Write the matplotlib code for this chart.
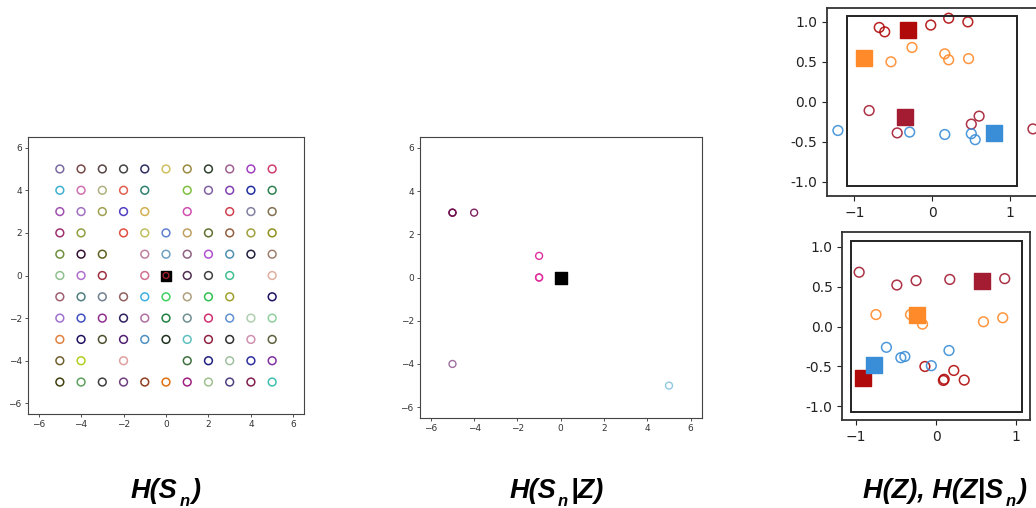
import numpy as np
import matplotlib
matplotlib.use("Agg")
import matplotlib.pyplot as plt
from matplotlib.patches import Rectangle

# ============================================================
# Panel 1 : full grid of states, colour per state (None = empty)
# ============================================================
grid_x = list(range(-5, 6))
grid_y = [5, 4, 3, 2, 1, 0, -1, -2, -3, -4, -5]
grid_colors = [
    ["#7a6aa0", "#7a4a4a", "#5a4545", "#454545", "#303060", "#d0c060",
     "#9a8a40", "#304030", "#a06090", "#a040c0", "#d04070"],
    ["#40b0d0", "#d070b0", "#b0b080", "#e06050", "#308070", None,
     "#80c040", "#8060a0", "#8040b0", "#2030a0", "#308050"],
    ["#a050b0", "#a070c0", "#a0a050", "#5040c0", "#d0b050", None,
     "#d050b0", None, "#d04050", "#8080a0", "#807050"],
    ["#a03070", "#90a040", None, "#e05040", "#c0c060", "#6080d0",
     "#c0a060", "#607030", "#906040", "#a0a040", "#909020"],
    ["#709040", "#301030", "#606020", None, "#c080a0", "#70a0c0",
     "#906080", "#b050d0", "#5090b0", "#202040", "#a08070"],
    ["#90c090", "#b070d0", "#a03040", None, "#d07090", None,
     "#503050", "#404040", "#40c090", None, "#e0b0a0"],
    ["#a06070", "#508080", "#708090", "#906060", "#40b0e0", "#40d060",
     "#b0a080", "#30c050", "#a0a030", None, "#201060"],
    ["#a070d0", "#4050c0", "#903090", "#302060", "#b070a0", "#208040",
     "#709090", "#d03070", "#6090d0", "#b0d0b0", "#90d0a0"],
    ["#e08040", "#201060", "#505030", "#502070", "#5090c0", "#203020",
     "#60c0c0", "#902040", "#303030", "#d090b0", "#606040"],
    ["#706030", "#b0d020", None, "#e0a0a0", None, None,
     "#407040", "#202080", "#a0c0a0", "#3030a0", "#8030a0"],
    ["#404010", "#60a060", "#404040", "#704080", "#904020", "#e07010",
     "#a02080", "#a0c090", "#504080", "#802050", "#40c0b0"],
]
origin_xy = (0, 0)

# ============================================================
# Panel 2 : remaining states given Z
# ============================================================
p2_x = [-5, -5, -4, -1, -1, -1, -5, 5]
p2_y = [3, 3, 3, 1, 0, 0, -4, -5]
p2_colors = ["#701050", "#701050", "#802060", "#e030a0", "#e030a0",
             "#e030a0", "#a070a0", "#90c8e0"]

# ============================================================
# Panels 3/4 : embeddings, four groups (dark red, orange, crimson, blue)
# ============================================================
group_colors = ["#b00a0a", "#ff8a2a", "#a31c32", "#3a8ed8"]

top_pts = {
    0: ([-0.68, -0.61, -0.02, 0.21, 0.456], [0.93, 0.875, 0.96, 1.046, 1.0]),
    1: ([-0.26, -0.53, 0.16, 0.21, 0.465], [0.68, 0.50, 0.60, 0.525, 0.54]),
    2: ([-0.81, 0.60, 0.50, -0.45, 1.29], [-0.11, -0.18, -0.28, -0.39, -0.34]),
    3: ([-1.21, -0.29, 0.16, 0.50, 0.55], [-0.36, -0.38, -0.41, -0.40, -0.475]),
}
top_centers_x = [-0.31, -0.88, -0.35, 0.79]
top_centers_y = [0.90, 0.55, -0.19, -0.39]

bot_pts = {
    0: ([-0.14, 0.09, 0.10, 0.22, 0.35], [-0.50, -0.675, -0.66, -0.55, -0.67]),
    1: ([-0.75, -0.32, -0.17, 0.59, 0.83], [0.15, 0.15, 0.03, 0.06, 0.11]),
    2: ([-0.96, -0.49, -0.25, 0.17, 0.855], [0.68, 0.52, 0.575, 0.59, 0.60]),
    3: ([-0.62, -0.44, -0.39, -0.06, 0.16], [-0.26, -0.39, -0.375, -0.49, -0.30]),
}
bot_centers_x = [-0.91, -0.24, 0.57, -0.77]
bot_centers_y = [-0.65, 0.146, 0.57, -0.48]

# titles as (main, subscript, tail)
titles = [("H(S", "n", ")"), ("H(S", "n", "|Z)"),
          ("H(Z), H(Z|S", "n", ")")]
title_centers = [165.5, 556.5, 945]

# ============================================================
# Figure
# ============================================================
W, H = 1036, 508
fig = plt.figure(figsize=(W / 100, H / 100), dpi=100)


def px_axes(left, top, right, bottom):
    return fig.add_axes([left / W, (H - bottom) / H,
                         (right - left) / W, (bottom - top) / H])


def style_small(ax):
    ax.set_xlim(-6.5, 6.5)
    ax.set_ylim(-6.5, 6.5)
    ax.set_xticks([-6, -4, -2, 0, 2, 4, 6])
    ax.set_yticks([-6, -4, -2, 0, 2, 4, 6])
    ax.tick_params(labelsize=6.5, length=2.5, width=0.6, pad=2,
                   colors="#333333")
    for s in ax.spines.values():
        s.set_linewidth(0.8)
        s.set_color("#444444")


# panel 1
ax1 = px_axes(28, 137, 304, 414)
xs, ys, cs = [], [], []
for yi, row in zip(grid_y, grid_colors):
    for xi, c in zip(grid_x, row):
        if c is not None:
            xs.append(xi)
            ys.append(yi)
            cs.append(c)
ax1.scatter(xs, ys, s=5.6 ** 2, facecolors="none", edgecolors=cs,
            linewidths=1.1)
ax1.scatter([origin_xy[0]], [origin_xy[1]], s=7.2 ** 2, marker="s",
            color="black")
ax1.scatter([origin_xy[0]], [origin_xy[1]], s=4.2 ** 2, facecolors="none",
            edgecolors="#a02030", linewidths=1.0)
style_small(ax1)

# panel 2
ax2 = px_axes(420, 137, 701.5, 418)
ax2.scatter(p2_x, p2_y, s=5.0 ** 2, facecolors="none", edgecolors=p2_colors,
            linewidths=1.0)
ax2.scatter([origin_xy[0]], [origin_xy[1]], s=8.6 ** 2, marker="s",
            color="black")
style_small(ax2)


def embed_panel(ax, pts, cx, cy, rect, xlim, ylim):
    for g, (gx, gy) in pts.items():
        ax.scatter(gx, gy, s=7.0 ** 2, facecolors="none",
                   edgecolors=group_colors[g], linewidths=1.1, alpha=0.9,
                   clip_on=False)
    ax.scatter(cx, cy, s=11.5 ** 2, marker="s", color=group_colors,
               zorder=3)
    x0, y0, x1, y1 = rect
    ax.add_patch(Rectangle((x0, y0), x1 - x0, y1 - y0, fill=False,
                           edgecolor="#222222", linewidth=1.4))
    ax.set_xlim(*xlim)
    ax.set_ylim(*ylim)
    ax.set_xticks([-1, 0, 1])
    ax.set_yticks([-1.0, -0.5, 0.0, 0.5, 1.0])
    ax.yaxis.set_major_formatter(plt.FormatStrFormatter("%.1f"))
    ax.tick_params(labelsize=10, length=3.5, width=0.8, colors="#222222")
    for s in ax.spines.values():
        s.set_linewidth(1.3)
        s.set_color("#333333")


ax3 = px_axes(827, 8.3, 1037.6, 196)
embed_panel(ax3, top_pts, top_centers_x, top_centers_y,
            (-1.09, -1.06, 1.09, 1.075), (-1.35, 1.35), (-1.18, 1.17))

ax4 = px_axes(842.3, 232.3, 1030, 420)
embed_panel(ax4, bot_pts, bot_centers_x, bot_centers_y,
            (-1.06, -1.07, 1.07, 1.075), (-1.17, 1.17), (-1.17, 1.18))

# ============================================================
# Titles (subscript placed by hand, it sits well below the baseline)
# ============================================================
renderer = fig.canvas.get_renderer()
font_kw = dict(family="Liberation Sans", weight="bold", style="italic",
               color="black", va="baseline", ha="left")
base_y = 498.3
sub_y = 505.5
gap = 2

for xc, (main, sub, tail) in zip(title_centers, titles):
    t1 = fig.text(0, (H - base_y) / H, main, fontsize=19.5, **font_kw)
    t2 = fig.text(0, (H - sub_y) / H, sub, fontsize=12, **font_kw)
    t3 = fig.text(0, (H - base_y) / H, tail, fontsize=19.5, **font_kw)
    w1 = t1.get_window_extent(renderer).width
    w2 = t2.get_window_extent(renderer).width
    w3 = t3.get_window_extent(renderer).width
    x0 = xc - (w1 + gap + w2 + gap + w3) / 2
    t1.set_x(x0 / W)
    t2.set_x((x0 + w1 + gap) / W)
    t3.set_x((x0 + w1 + gap + w2 + gap) / W)

fig.savefig("out.png", dpi=100)
